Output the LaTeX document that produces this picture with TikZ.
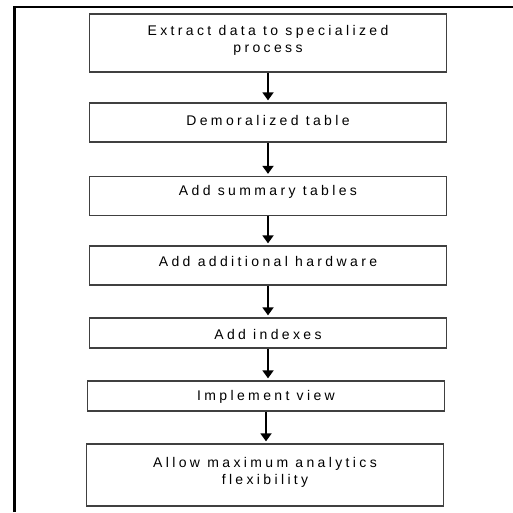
\documentclass[tikz,border=0pt]{standalone}
\usepackage{fontspec}
\setmainfont{Liberation Sans}[LetterSpace=24]
\usetikzlibrary{arrows.meta}
\begin{document}
\begin{tikzpicture}[x=1pt,y=-1pt,
  stepbox/.style={draw=black!75, line width=1.3pt, fill=white, inner sep=0pt,
    minimum width=357pt},
  txt/.style={inner sep=0pt, align=center, font=\fontsize{14}{17}\selectfont},
  flow/.style={line width=1.8pt, shorten >=2pt, -{Triangle[length=8pt,width=11pt]}}]
\useasboundingbox (0,0) rectangle (513,512);
\draw[line width=2.2pt] (14.5,512) -- (14.5,7) -- (513,7);
\node[stepbox, minimum height=58pt,
  label={[txt, yshift=3pt]center:Extract data to specialized\\process}] (b1) at (268,43) {};
\node[stepbox, minimum height=39pt,
  label={[txt, yshift=2pt]center:Demoralized table}] (b2) at (268,122.5) {};
\node[stepbox, minimum height=39pt,
  label={[txt, yshift=4pt]center:Add summary tables}] (b3) at (268,196) {};
\node[stepbox, minimum height=39pt,
  label={[txt, yshift=4pt]center:Add additional hardware}] (b4) at (268,265.5) {};
\node[stepbox, minimum height=30pt,
  label={[txt, yshift=-1pt]center:Add indexes}] (b5) at (268,333) {};
\node[stepbox, minimum height=30pt,
  label={[txt, yshift=-1pt]center:Implement view}] (b6) at (266,396) {};
\node[stepbox, minimum height=62pt,
  label={[txt, yshift=3pt]center:Allow maximum analytics\\flexibility}] (b7) at (265,475) {};
\draw[flow] (b1.south) -- (b2.north);
\draw[flow] (b2.south) -- (b3.north);
\draw[flow] (b3.south) -- (b4.north);
\draw[flow] (b4.south) -- (b5.north);
\draw[flow] (b5.south) -- (b5.south |- b6.north);
\draw[flow] (b6.south) -- (b6.south |- b7.north);
\end{tikzpicture}
\end{document}
